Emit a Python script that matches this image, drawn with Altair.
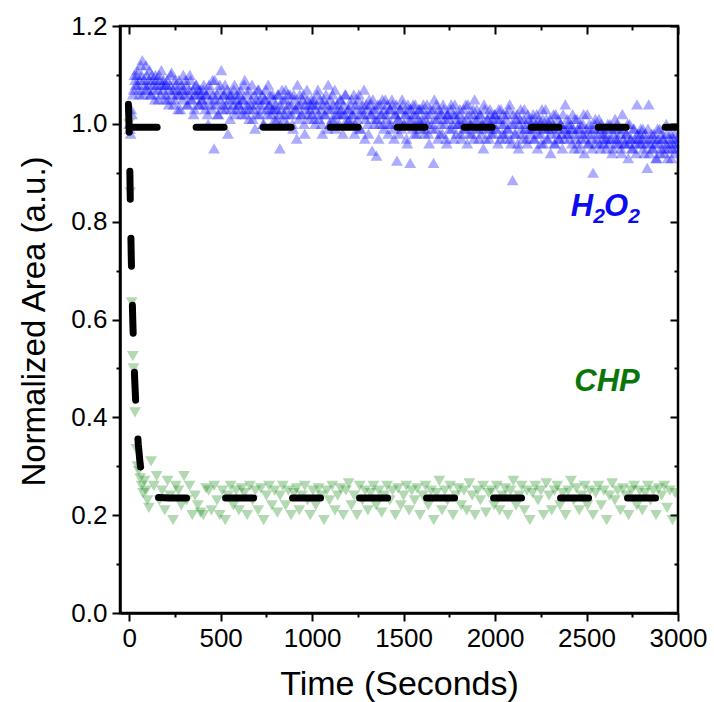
import altair as alt
import pandas as pd

# ---------------- data ----------------
# H2O2 (blue, up triangles): two interleaved sets of readings, every 8 s,
# the first starting at t = 0, the second at t = 4
h2o2_start_a, h2o2_start_b, h2o2_step = 0, 4, 8
h2o2_values_a = [
    1.00, 0.98, 1.02, 1.07, 1.09, 1.10, 1.08, 1.06, 1.12, 1.13, 1.09, 1.07, 1.10, 1.08, 1.11, 1.06, 1.09, 1.07, 1.10, 1.08, 1.05, 1.09, 1.11, 1.07, 1.08,
    1.06, 1.09, 1.04, 1.08, 1.105, 1.07, 1.05, 1.08, 1.06, 1.09, 1.03, 1.07, 1.10, 1.06, 1.08, 1.04, 1.07, 1.09, 1.05, 1.02, 1.06, 1.08, 1.07, 1.04, 1.06,
    1.05, 1.08, 1.03, 1.06, 1.00, 1.07, 1.04, 1.09, 0.95, 1.05, 1.06, 1.02, 1.08, 1.11, 1.04, 1.06, 1.03, 1.07, 1.05, 1.01, 1.06, 1.04, 1.08, 1.03, 1.05,
    1.04, 1.07, 1.02, 1.05, 1.09, 1.03, 1.06, 1.01, 1.04, 1.08, 1.03, 0.99, 1.05, 1.07, 1.02, 1.04, 1.06, 1.00, 1.05, 1.03, 1.08, 1.04, 1.02, 1.06, 1.03,
    1.04, 1.01, 1.06, 0.95, 1.03, 1.05, 1.02, 1.07, 1.00, 1.04, 1.06, 1.02, 0.99, 1.05, 1.03, 1.08, 1.01, 1.04, 1.02, 1.06, 0.98, 1.03, 1.05, 1.01, 1.04,
    1.02, 1.05, 1.00, 1.04, 1.07, 1.01, 1.03, 0.98, 1.05, 1.02, 1.04, 1.08, 1.00, 1.03, 1.06, 1.01, 0.99, 1.04, 1.02, 1.05, 1.03, 0.98, 1.02, 1.06, 1.01,
    1.03, 1.00, 1.05, 1.02, 0.98, 1.04, 1.01, 1.06, 0.99, 1.03, 1.02, 0.97, 1.04, 1.00, 1.05, 1.02, 0.945, 1.03, 1.01, 0.935, 1.04, 1.00, 1.02, 1.05, 0.99,
    1.05, 1.01, 0.98, 1.03, 1.00, 1.04, 0.97, 1.02, 0.925, 1.01, 1.03, 0.99, 1.04, 1.00, 1.02, 0.96, 1.03, 0.92, 1.01, 1.04, 0.98, 1.02, 1.00, 1.03, 0.99,
    1.01, 1.04, 0.98, 1.02, 1.00, 0.96, 1.03, 0.99, 0.92, 1.01, 1.04, 0.97, 1.02, 1.00, 0.98, 1.03, 1.01, 0.96, 1.02, 0.99, 1.04, 1.00, 0.97, 1.02, 1.01,
    1.00, 1.03, 0.97, 1.01, 0.99, 1.04, 0.96, 1.02, 1.00, 0.98, 1.03, 1.05, 0.99, 1.01, 0.97, 1.02, 1.00, 0.95, 1.03, 0.99, 1.01, 0.97, 1.02, 1.00, 0.98,
    1.02, 0.99, 0.96, 1.01, 1.03, 0.98, 1.00, 0.97, 1.02, 0.99, 1.04, 0.96, 0.885, 1.00, 0.98, 1.02, 0.95, 1.01, 0.99, 0.97, 1.03, 1.00, 0.96, 1.01, 0.98,
    0.99, 1.02, 0.97, 1.00, 0.95, 1.01, 0.98, 1.03, 0.96, 0.99, 1.01, 0.97, 1.00, 0.94, 0.99, 1.02, 0.96, 0.98, 1.01, 0.97, 1.00, 0.95, 0.99, 1.04, 0.98,
    1.00, 0.97, 0.99, 1.02, 0.95, 0.98, 1.01, 0.96, 0.99, 0.97, 1.00, 0.94, 0.98, 1.02, 0.96, 0.99, 0.97, 0.90, 1.00, 0.96, 0.98, 1.01, 0.95, 0.99, 0.97,
    0.98, 0.95, 1.00, 0.97, 0.99, 0.94, 0.98, 1.01, 0.96, 0.97, 0.99, 0.95, 1.02, 0.97, 0.96, 0.98, 0.93, 1.00, 0.97, 0.95, 0.99, 0.96, 1.04, 0.97, 0.98,
    0.96, 0.99, 0.94, 0.97, 0.91, 1.04, 0.96, 0.98, 0.95, 0.97, 0.93, 0.99, 0.96, 0.94, 0.98, 0.97, 0.95, 1.00, 0.93, 0.96, 0.98, 0.95, 0.97, 0.94, 0.96,
]
h2o2_values_b = [
    0.99, 1.03, 1.06, 1.10, 1.08, 1.11, 1.07, 1.09, 1.10, 1.06, 1.08, 1.12, 1.07, 1.09, 1.06, 1.10, 1.08, 1.05, 1.09, 1.07, 1.10, 1.06, 1.08, 1.09, 1.05,
    1.08, 1.05, 1.07, 1.10, 1.06, 1.04, 1.09, 1.07, 1.03, 1.06, 1.08, 1.05, 1.07, 1.09, 1.04, 1.06, 1.10, 1.05, 1.07, 1.03, 1.08, 1.06, 1.04, 1.07, 1.05,
    1.07, 1.04, 1.06, 1.02, 1.08, 1.05, 1.03, 1.06, 1.09, 1.04, 1.02, 1.07, 1.05, 1.03, 1.06, 1.08, 1.04, 0.98, 1.06, 1.03, 1.05, 1.07, 1.02, 1.06, 1.04,
    1.06, 1.03, 1.05, 1.08, 1.02, 1.04, 1.07, 1.03, 1.05, 1.01, 1.06, 1.04, 1.02, 1.07, 1.05, 1.03, 1.00, 1.05, 1.07, 1.02, 1.04, 1.06, 1.03, 1.05, 1.01,
    1.03, 1.06, 1.02, 1.04, 1.07, 1.01, 1.05, 1.03, 1.06, 1.02, 1.04, 1.00, 1.06, 1.03, 0.97, 1.04, 1.06, 1.02, 1.05, 1.00, 1.04, 1.07, 1.02, 1.03, 1.05,
    1.04, 1.01, 1.03, 1.06, 1.02, 1.05, 1.00, 1.04, 1.02, 1.06, 0.99, 1.03, 1.05, 1.01, 1.04, 1.07, 1.02, 1.03, 1.00, 1.05, 1.02, 1.04, 1.06, 1.00, 1.03,
    1.01, 1.04, 1.02, 1.06, 1.00, 1.03, 1.05, 0.99, 1.02, 1.04, 1.07, 1.01, 1.03, 0.98, 1.04, 1.02, 1.05, 1.00, 1.03, 1.01, 0.97, 1.04, 1.02, 1.00, 1.03,
    1.02, 1.04, 1.00, 1.03, 1.05, 0.99, 1.02, 1.04, 1.01, 0.98, 1.03, 1.05, 1.00, 1.02, 0.97, 1.04, 1.01, 1.03, 0.99, 1.02, 1.04, 0.98, 1.01, 1.03, 1.00,
    1.03, 0.99, 1.01, 1.04, 0.98, 1.02, 1.00, 1.03, 1.05, 0.99, 1.01, 1.03, 0.98, 1.02, 1.04, 1.00, 0.97, 1.02, 1.01, 1.03, 0.99, 1.02, 1.04, 0.98, 1.00,
    1.02, 0.98, 1.00, 1.03, 0.99, 1.01, 1.04, 0.98, 1.00, 1.02, 0.97, 1.01, 1.03, 0.99, 1.02, 0.98, 1.00, 1.04, 0.97, 1.01, 0.99, 1.03, 0.98, 1.01, 1.02,
    0.99, 1.01, 1.03, 0.97, 1.00, 1.02, 0.98, 1.01, 0.99, 1.03, 0.97, 1.00, 1.02, 0.98, 1.01, 0.96, 1.00, 1.03, 0.98, 1.01, 0.99, 0.97, 1.02, 0.99, 1.00,
    1.01, 0.97, 0.99, 1.02, 0.98, 1.00, 0.96, 1.01, 0.99, 1.03, 0.97, 0.99, 1.01, 0.98, 1.00, 0.96, 1.02, 0.99, 0.97, 1.00, 0.98, 1.02, 0.97, 0.99, 1.01,
    0.98, 1.00, 0.96, 0.99, 1.01, 0.97, 0.99, 0.95, 1.00, 0.98, 1.02, 0.97, 0.99, 0.96, 1.00, 0.98, 0.95, 0.99, 1.01, 0.97, 0.99, 0.96, 1.00, 0.98, 0.96,
    0.97, 0.99, 0.96, 1.00, 0.97, 0.95, 0.99, 0.97, 1.00, 0.96, 0.98, 0.94, 0.99, 0.96, 0.98, 1.00, 0.96, 0.97, 0.95, 0.99, 0.97, 0.94, 0.98, 0.96, 0.99,
    0.97, 0.95, 0.98, 0.96, 0.99, 0.94, 0.97, 0.95, 0.98, 0.96, 0.93, 0.97, 0.99, 0.95, 0.97, 0.94, 0.96, 0.98, 0.95, 0.97, 0.93, 0.96, 0.98, 0.95, 0.97,
]

# CHP (green, down triangles): early decay readings, then one every 15 s from t = 120
chp_early_t = [0, 6, 14, 20, 24, 32, 40, 46, 52, 60, 68, 76, 84, 92, 100, 108]
chp_early_v = [1.00, 0.86, 0.635, 0.525, 0.50, 0.41, 0.335, 0.30, 0.29, 0.275, 0.26, 0.245, 0.27, 0.25, 0.23, 0.215]
chp_start, chp_step = 120, 15
chp_values = [
    0.31, 0.26, 0.28, 0.23, 0.25, 0.21, 0.27, 0.24, 0.19, 0.26, 0.25, 0.22, 0.28, 0.23, 0.26, 0.20,
    0.24, 0.22, 0.205, 0.20, 0.255, 0.25, 0.21, 0.26, 0.23, 0.20, 0.25, 0.19, 0.24, 0.26, 0.22, 0.25,
    0.21, 0.255, 0.245, 0.20, 0.26, 0.23, 0.25, 0.21, 0.255, 0.19, 0.24, 0.26, 0.22, 0.25, 0.205, 0.24,
    0.26, 0.22, 0.25, 0.20, 0.245, 0.255, 0.21, 0.24, 0.26, 0.23, 0.20, 0.25, 0.22, 0.255, 0.24, 0.19,
    0.25, 0.23, 0.26, 0.21, 0.24, 0.255, 0.20, 0.25, 0.265, 0.22, 0.24, 0.20, 0.26, 0.23, 0.25, 0.21,
    0.245, 0.26, 0.22, 0.25, 0.205, 0.24, 0.26, 0.23, 0.25, 0.20, 0.255, 0.22, 0.24, 0.26, 0.21, 0.25,
    0.23, 0.255, 0.20, 0.24, 0.26, 0.22, 0.25, 0.19, 0.245, 0.27, 0.21, 0.25, 0.23, 0.26, 0.20, 0.24,
    0.255, 0.22, 0.25, 0.21, 0.265, 0.24, 0.20, 0.25, 0.23, 0.26, 0.205, 0.245, 0.25, 0.22, 0.26, 0.21,
    0.24, 0.255, 0.20, 0.25, 0.27, 0.22, 0.24, 0.26, 0.21, 0.25, 0.19, 0.245, 0.26, 0.23, 0.25, 0.20,
    0.265, 0.24, 0.21, 0.25, 0.26, 0.22, 0.245, 0.20, 0.25, 0.27, 0.23, 0.255, 0.21, 0.24, 0.26, 0.22,
    0.25, 0.20, 0.245, 0.26, 0.22, 0.25, 0.19, 0.24, 0.265, 0.23, 0.25, 0.21, 0.255, 0.24, 0.20, 0.25,
    0.26, 0.22, 0.25, 0.21, 0.245, 0.26, 0.23, 0.25, 0.20, 0.255, 0.24, 0.26, 0.215, 0.25, 0.19, 0.245,
]

# fitted curves (black dashed)
fit_chp_t = [-4, 0, 4, 8, 12, 16, 20, 25, 30, 36, 42, 50, 60, 70, 80, 95, 110, 130, 160, 220, 3000]
fit_chp_v = [1.04, 0.99, 0.90, 0.80, 0.72, 0.655, 0.595, 0.535, 0.48, 0.43, 0.39, 0.345, 0.305, 0.28,
             0.262, 0.25, 0.243, 0.239, 0.236, 0.235, 0.235]
fit_h2o2_t = [0, 3000]
fit_h2o2_v = [0.993, 0.993]

# axis ticks
x_ticks = [0, 250, 500, 750, 1000, 1250, 1500, 1750, 2000, 2250, 2500, 2750, 3000]
y_ticks = [0.0, 0.1, 0.2, 0.3, 0.4, 0.5, 0.6, 0.7, 0.8, 0.9, 1.0, 1.1, 1.2]

# in-plot labels (anchor at the text baseline centre)
h2o2_parts = ["H", "2", "O", "2"]
chp_label = "CHP"
label_t = [2601, 2612]
label_v = [0.812, 0.454]
blue_text, green_text = "#0c0cf2", "#0a760a"

# ---------------- tables ----------------
h2o2_df = pd.DataFrame({
    "t": [h2o2_start_a + i * h2o2_step for i in range(len(h2o2_values_a))]
       + [h2o2_start_b + i * h2o2_step for i in range(len(h2o2_values_b))],
    "v": h2o2_values_a + h2o2_values_b,
})
chp_df = pd.DataFrame({
    "t": chp_early_t + [chp_start + i * chp_step for i in range(len(chp_values))],
    "v": chp_early_v + chp_values,
})
fit_df = pd.concat([
    pd.DataFrame({"t": fit_chp_t, "v": fit_chp_v, "series": "CHP"}),
    pd.DataFrame({"t": fit_h2o2_t, "v": fit_h2o2_v, "series": "H2O2"}),
])
h2o2_lbl_df = pd.DataFrame({"t": [label_t[0]], "v": [label_v[0]]})
chp_lbl_df = pd.DataFrame({"t": [label_t[1]], "v": [label_v[1]], "text": [chp_label]})

FONT = "Liberation Sans"
x_scale = alt.Scale(domain=[-50, 3000], nice=False, zero=False)
y_scale = alt.Scale(domain=[0, 1.2], nice=False, zero=False)

x_minor = "datum.value % 500 !== 0"
y_minor = "round(datum.value * 10) % 2 !== 0"

common_axis = dict(
    grid=False, tickColor="black", tickWidth=2, tickSize=8,
    labelOverlap=False, labelFlush=False, labelBound=False,
)

x_bottom = alt.Axis(
    orient="bottom", values=x_ticks, format="d",
    labelExpr="datum.value % 500 === 0 ? datum.label : ''",
    tickDash={"condition": {"test": x_minor, "value": [4, 20]}, "value": [1, 0]},
    domainColor="black", domainWidth=2.5,
    labelFont=FONT, labelFontSize=26, labelColor="black", labelPadding=4,
    title="Time (Seconds)", titleFont=FONT, titleFontSize=34, titleFontWeight="normal",
    titleColor="black", titleY=81, titleBaseline="alphabetic",
    **common_axis,
)
y_left = alt.Axis(
    orient="left", values=y_ticks, format=".1f",
    labelExpr="round(datum.value * 10) % 2 === 0 ? datum.label : ''",
    tickDash={"condition": {"test": y_minor, "value": [4, 20]}, "value": [1, 0]},
    domainColor="black", domainWidth=2.5,
    labelFont=FONT, labelFontSize=26, labelColor="black", labelPadding=5,
    title="Normalized Area (a.u.)", titleFont=FONT, titleFontSize=33, titleFontWeight="normal",
    titleColor="black", titleX=-76, titleY=295, titleBaseline="alphabetic", titleAngle=-90,
    **common_axis,
)
x_top = alt.Axis(
    orient="top", values=x_ticks, labels=False, domain=False, title=None, offset=-8,
    tickDash={"condition": {"test": x_minor, "value": [0, 4, 4, 20]}, "value": [1, 0]},
    **common_axis,
)
y_right = alt.Axis(
    orient="right", values=y_ticks, labels=False, domain=False, title=None, offset=-8,
    tickDash={"condition": {"test": y_minor, "value": [0, 4, 4, 20]}, "value": [1, 0]},
    **common_axis,
)

blue = alt.Chart(h2o2_df).mark_point(
    shape="triangle-up", filled=True, size=140, color="#0000ff", opacity=0.33,
    strokeWidth=0, clip=True,
).encode(
    x=alt.X("t:Q", scale=x_scale, axis=x_bottom),
    y=alt.Y("v:Q", scale=y_scale, axis=y_left),
)

green = alt.Chart(chp_df).mark_point(
    shape="triangle-down", filled=True, size=140, color="#008000", opacity=0.3,
    strokeWidth=0, clip=True,
).encode(
    x=alt.X("t:Q", scale=x_scale, axis=x_top),
    y=alt.Y("v:Q", scale=y_scale, axis=y_right),
)

fits = alt.Chart(fit_df).mark_line(
    color="black", strokeWidth=7, strokeDash=[28, 39], strokeCap="round", clip=True,
).encode(
    x=alt.X("t:Q", scale=x_scale, axis=None),
    y=alt.Y("v:Q", scale=y_scale, axis=None),
    detail="series:N",
)

lbl_enc = dict(
    x=alt.X("t:Q", scale=x_scale, axis=None),
    y=alt.Y("v:Q", scale=y_scale, axis=None),
)
txt_style = dict(font=FONT, fontStyle="italic", fontWeight="bold", align="center",
                 baseline="alphabetic")

# H2O2 built from pieces so the 2s are real subscripts
h2o2_layers = [
    alt.Chart(h2o2_lbl_df).mark_text(text=h2o2_parts[0], fontSize=31, dx=-23, color=blue_text, **txt_style).encode(**lbl_enc),
    alt.Chart(h2o2_lbl_df).mark_text(text=h2o2_parts[1], fontSize=21, dx=-6, dy=7, color=blue_text, **txt_style).encode(**lbl_enc),
    alt.Chart(h2o2_lbl_df).mark_text(text=h2o2_parts[2], fontSize=31, dx=11, color=blue_text, **txt_style).encode(**lbl_enc),
    alt.Chart(h2o2_lbl_df).mark_text(text=h2o2_parts[3], fontSize=21, dx=29, dy=7, color=blue_text, **txt_style).encode(**lbl_enc),
]
chp_text = alt.Chart(chp_lbl_df).mark_text(fontSize=31, color=green_text, **txt_style).encode(
    text="text:N", **lbl_enc
)

chart = alt.layer(blue, green, fits, *h2o2_layers, chp_text).resolve_axis(
    x="independent", y="independent"
).properties(
    width=558, height=587,
    padding={"left": 120, "top": 26, "right": 36, "bottom": 89},
    autosize=alt.AutoSizeParams(type="none"),
    background="white",
).configure_view(stroke="black", strokeWidth=2.5)

chart.save("out.html", embed_options={"renderer": "svg", "actions": False})
